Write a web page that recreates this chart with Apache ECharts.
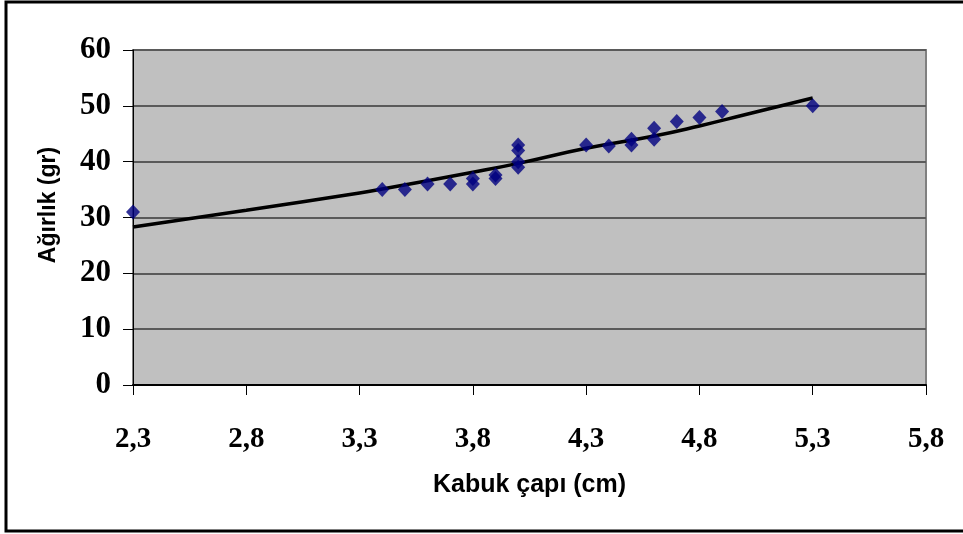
<!DOCTYPE html>
<html>
<head>
<meta charset="utf-8">
<script src="https://cdn.jsdelivr.net/npm/echarts@6/dist/echarts.min.js"></script>
<style>html,body{margin:0;padding:0;background:#fff}#c{width:963px;height:534px}</style>
</head>
<body>
<div id="c"></div>
<script>
// Observed points: shell diameter (cm) vs weight (gr)
var diameters = [2.3, 3.4, 3.5, 3.6, 3.7, 3.8, 3.8, 3.9, 3.9, 4.0, 4.0, 4.0, 4.0, 4.3, 4.4, 4.5, 4.5, 4.6, 4.6, 4.7, 4.8, 4.9, 5.3];
var weights   = [31,  35,  35,  36,  36,  36,  37,  37,  37.6, 39, 40, 42, 43, 43, 42.8, 43, 44, 44, 46, 47.2, 47.9, 49, 50];
// Trend line
var trendX = [2.3, 2.8, 3.3, 3.4, 3.8, 4.0, 4.3, 4.6, 4.8, 5.0, 5.3];
var trendY = [28.3, 31.3, 34.4, 35.1, 38.1, 39.7, 42.4, 44.6, 46.4, 48.4, 51.4];
var xTicks = {min: 2.3, max: 5.8, step: 0.5};
var yTicks = {min: 0, max: 60, step: 10};
var xTitle = 'Kabuk çapı (cm)';
var yTitle = 'Ağırlık (gr)';

var scatterData = diameters.map(function (d, i) { return [d, weights[i]]; });
var trendData = trendX.map(function (d, i) { return [d, trendY[i]]; });

var chart = echarts.init(document.getElementById('c'), null, {renderer: 'canvas'});
chart.setOption({
  animation: false,
  backgroundColor: '#ffffff',
  graphic: [{
    type: 'rect', z: -10,
    shape: {x: 6, y: 2, width: 980, height: 529},
    style: {fill: 'none', stroke: '#000', lineWidth: 3}
  }, {
    type: 'text', x: 49, y: 205, rotation: Math.PI / 2,
    style: {text: yTitle, fontFamily: 'Liberation Sans', fontWeight: 'bold', fontSize: 23, fill: '#000',
      textAlign: 'center', textVerticalAlign: 'middle'}
  }],
  grid: {left: 133, right: 37, top: 50, bottom: 149, show: true, backgroundColor: '#c0c0c0', borderColor: '#808080', borderWidth: 2},
  xAxis: {
    type: 'value', min: xTicks.min, max: xTicks.max, interval: xTicks.step,
    name: xTitle, nameLocation: 'middle', nameGap: 88,
    nameTextStyle: {fontFamily: 'Liberation Sans', fontWeight: 'bold', fontSize: 25, color: '#000'},
    axisLine: {show: true, onZero: false, lineStyle: {color: '#000', width: 2}},
    axisTick: {show: true, length: 10, inside: false, lineStyle: {color: '#000', width: 1}},
    axisLabel: {margin: 40, fontFamily: 'Liberation Serif', fontWeight: 'bold', fontSize: 29, color: '#000',
      formatter: function (v) { return v.toFixed(1).replace('.', ','); }},
    splitLine: {show: false}
  },
  yAxis: {
    type: 'value', min: yTicks.min, max: yTicks.max, interval: yTicks.step,
    axisLine: {show: true, lineStyle: {color: '#000', width: 1}},
    axisTick: {show: true, length: 10, lineStyle: {color: '#000', width: 1}},
    axisLabel: {margin: 22, fontFamily: 'Liberation Serif', fontWeight: 'bold', fontSize: 31, color: '#000'},
    splitLine: {show: true, lineStyle: {color: '#5a5a5a', width: 2}}
  },
  series: [{
    type: 'line', data: trendData, showSymbol: false, smooth: true,
    lineStyle: {color: '#000', width: 3.5}, z: 2
  }, {
    type: 'scatter', data: scatterData, symbol: 'diamond', symbolSize: [14, 15],
    itemStyle: {color: '#000080'}, z: 3
  }]
});
</script>
</body>
</html>
